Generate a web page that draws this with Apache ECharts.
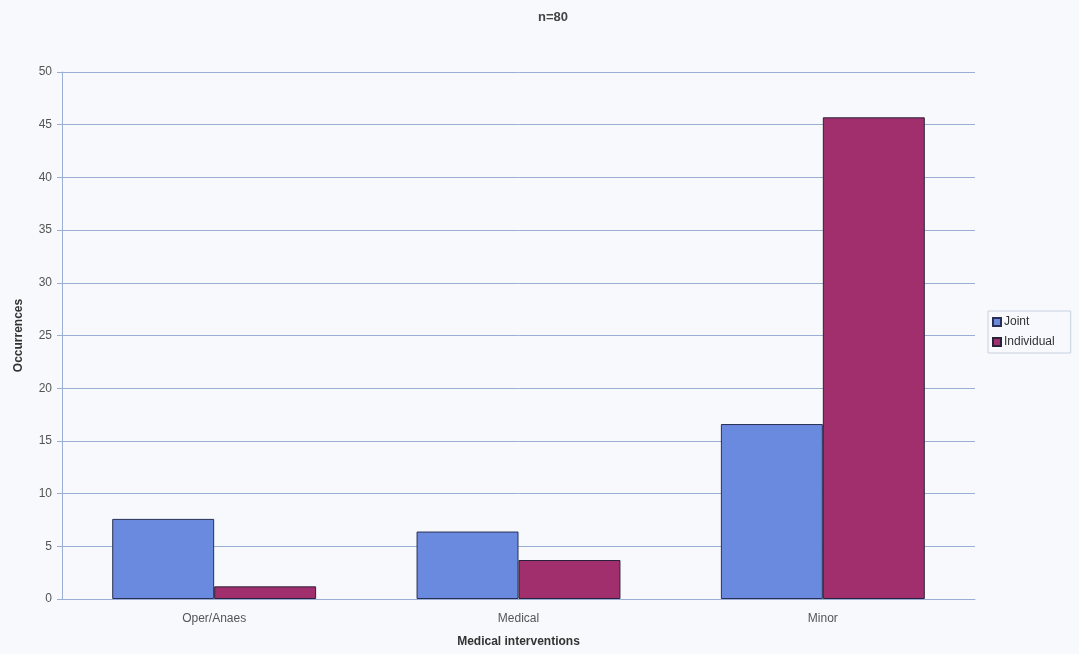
<!DOCTYPE html>
<html>
<head>
<meta charset="utf-8">
<script src="https://cdn.jsdelivr.net/npm/echarts@6/dist/echarts.min.js"></script>
<style>
html,body{margin:0;padding:0;background:#f7f9fc;}
#c{width:1079px;height:654px;}
</style>
</head>
<body>
<div id="c"></div>
<script>
const categories = ['Oper/Anaes', 'Medical', 'Minor'];
const jointValues = [7.6, 6.4, 16.6];
const individualValues = [1.2, 3.7, 45.7];
const seriesNames = ['Joint', 'Individual'];

const chart = echarts.init(document.getElementById('c'));
const font = 'Liberation Sans, Arial, sans-serif';
chart.setOption({
  backgroundColor: '#f7f9fc',
  animation: false,
  title: {
    text: 'n=80', left: 548, top: 6, textAlign: 'center',
    textStyle: {fontFamily: font, fontSize: 13, fontWeight: 'bold', color: '#444'}
  },
  legend: {
    orient: 'vertical', left: 988, top: 311,
    icon: 'rect',
    itemWidth: 8, itemHeight: 8, itemGap: 8,
    padding: [5, 16, 5, 4],
    borderColor: '#c8d0e0', borderWidth: 1,
    textStyle: {fontFamily: font, fontSize: 12, color: '#333', padding: [0, 0, 0, -2]},
    data: seriesNames
  },
  grid: {left: 62, right: 104, top: 72, bottom: 55},
  xAxis: {
    type: 'category', data: categories,
    name: 'Medical interventions', nameLocation: 'middle', nameGap: 37,
    nameTextStyle: {fontFamily: font, fontSize: 12, fontWeight: 'bold', color: '#333'},
    axisLine: {lineStyle: {color: '#9aaed6'}},
    axisTick: {show: false},
    axisLabel: {fontFamily: font, fontSize: 12, color: '#555', margin: 14}
  },
  yAxis: {
    type: 'value', min: 0, max: 50, interval: 5,
    name: 'Occurrences', nameLocation: 'middle', nameGap: 37,
    nameTextStyle: {fontFamily: font, fontSize: 12, fontWeight: 'bold', color: '#333'},
    axisLine: {show: true, lineStyle: {color: '#9aaed6'}},
    axisTick: {show: true, length: 5, lineStyle: {color: '#9aaed6'}},
    axisLabel: {fontFamily: font, fontSize: 12, color: '#555', margin: 10},
    splitLine: {lineStyle: {color: '#9aaed6', width: 1}}
  },
  series: [
    {
      name: seriesNames[0], type: 'bar', data: jointValues,
      barGap: '0%', barCategoryGap: '33%',
      itemStyle: {color: '#6a8ae0', borderColor: '#2a2f55', borderWidth: 1}
    },
    {
      name: seriesNames[1], type: 'bar', data: individualValues,
      itemStyle: {color: '#a12f6e', borderColor: '#2a2238', borderWidth: 1}
    }
  ]
});
</script>
</body>
</html>
